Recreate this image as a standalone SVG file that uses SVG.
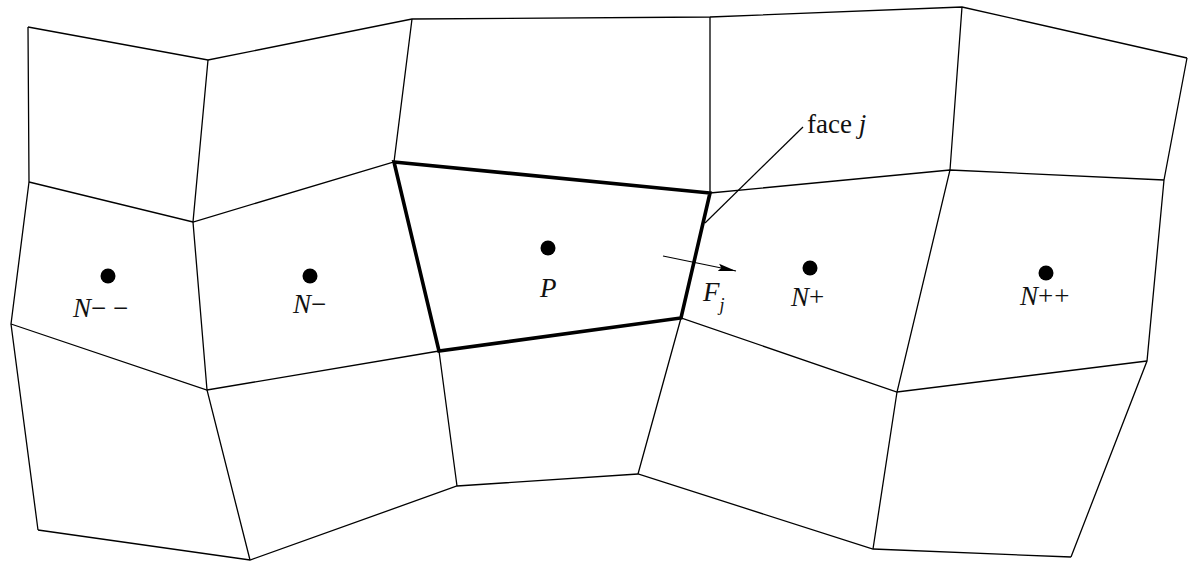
<svg xmlns="http://www.w3.org/2000/svg" width="1192" height="562" viewBox="0 0 1192 562">
<defs>
<style>
.mesh{fill:none;stroke:#000;stroke-width:1.3;stroke-linejoin:miter}
.thick{fill:none;stroke:#000;stroke-width:3.6;stroke-linejoin:miter}
.dot{fill:#000}
.lbl{font-family:"Liberation Serif","Times New Roman",serif;font-size:27px;fill:#111}
.it{font-style:italic}
.conn{fill:none;stroke:#000;stroke-width:1.2}
</style>
<marker id="ah" viewBox="0 0 18 9" refX="18" refY="4.5" markerWidth="18" markerHeight="9" markerUnits="userSpaceOnUse" orient="auto">
<path d="M0,0.8 L18,4.5 L0,8.2 L3,4.5 Z" fill="#000"/>
</marker>
</defs>
<rect width="1192" height="562" fill="#fff"/>
<g id="mesh">
<polyline class="mesh" points="28,27 208,60 412,19 710,17 962,7 1187,58"/>
<polyline class="mesh" points="29,182 193,222 394,162 710,193 950,170 1164,180"/>
<polyline class="mesh" points="11,324 207,390 439,351 681,318 897,392 1147,361"/>
<polyline class="mesh" points="38,530 250,560 457,486 638,474 873,549 1071,557"/>
<polyline class="mesh" points="28,27 29,182 11,324 38,530"/>
<polyline class="mesh" points="208,60 193,222 207,390 250,560"/>
<polyline class="mesh" points="412,19 394,162 439,351 457,486"/>
<polyline class="mesh" points="710,17 710,193 681,318 638,474"/>
<polyline class="mesh" points="962,7 950,170 897,392 873,549"/>
<polyline class="mesh" points="1187,58 1164,180 1147,361 1071,557"/>
</g>
<g id="cell-P-outline">
<polygon class="thick" points="394,162 710,193 681,318 439,351"/>
</g>
<g id="node-Nmm">
<circle class="dot" cx="108" cy="276" r="7.5"/>
<text class="lbl" x="73" y="317"><tspan class="it">N</tspan>− −</text>
</g>
<g id="node-Nm">
<circle class="dot" cx="310" cy="276" r="7.5"/>
<text class="lbl" x="293" y="313"><tspan class="it">N</tspan>−</text>
</g>
<g id="node-P">
<circle class="dot" cx="548" cy="248" r="7.5"/>
<text class="lbl it" x="540" y="297">P</text>
</g>
<g id="node-Np">
<circle class="dot" cx="810" cy="268" r="7.5"/>
<text class="lbl" x="791" y="306"><tspan class="it">N</tspan>+</text>
</g>
<g id="node-Npp">
<circle class="dot" cx="1046" cy="273" r="7.5"/>
<text class="lbl" x="1020" y="305"><tspan class="it">N</tspan>+<tspan dx="1">+</tspan></text>
</g>
<g id="label-Fj">
<text class="lbl it" x="703" y="301">F<tspan font-size="18" dy="10">j</tspan></text>
</g>
<g id="label-face">
<text class="lbl" x="807" y="133">face <tspan class="it">j</tspan></text>
</g>
<g id="connectors">
<line class="conn" x1="663" y1="256" x2="736" y2="271" marker-end="url(#ah)"/>
<line class="conn" x1="705" y1="223" x2="803" y2="127"/>
</g>
</svg>
